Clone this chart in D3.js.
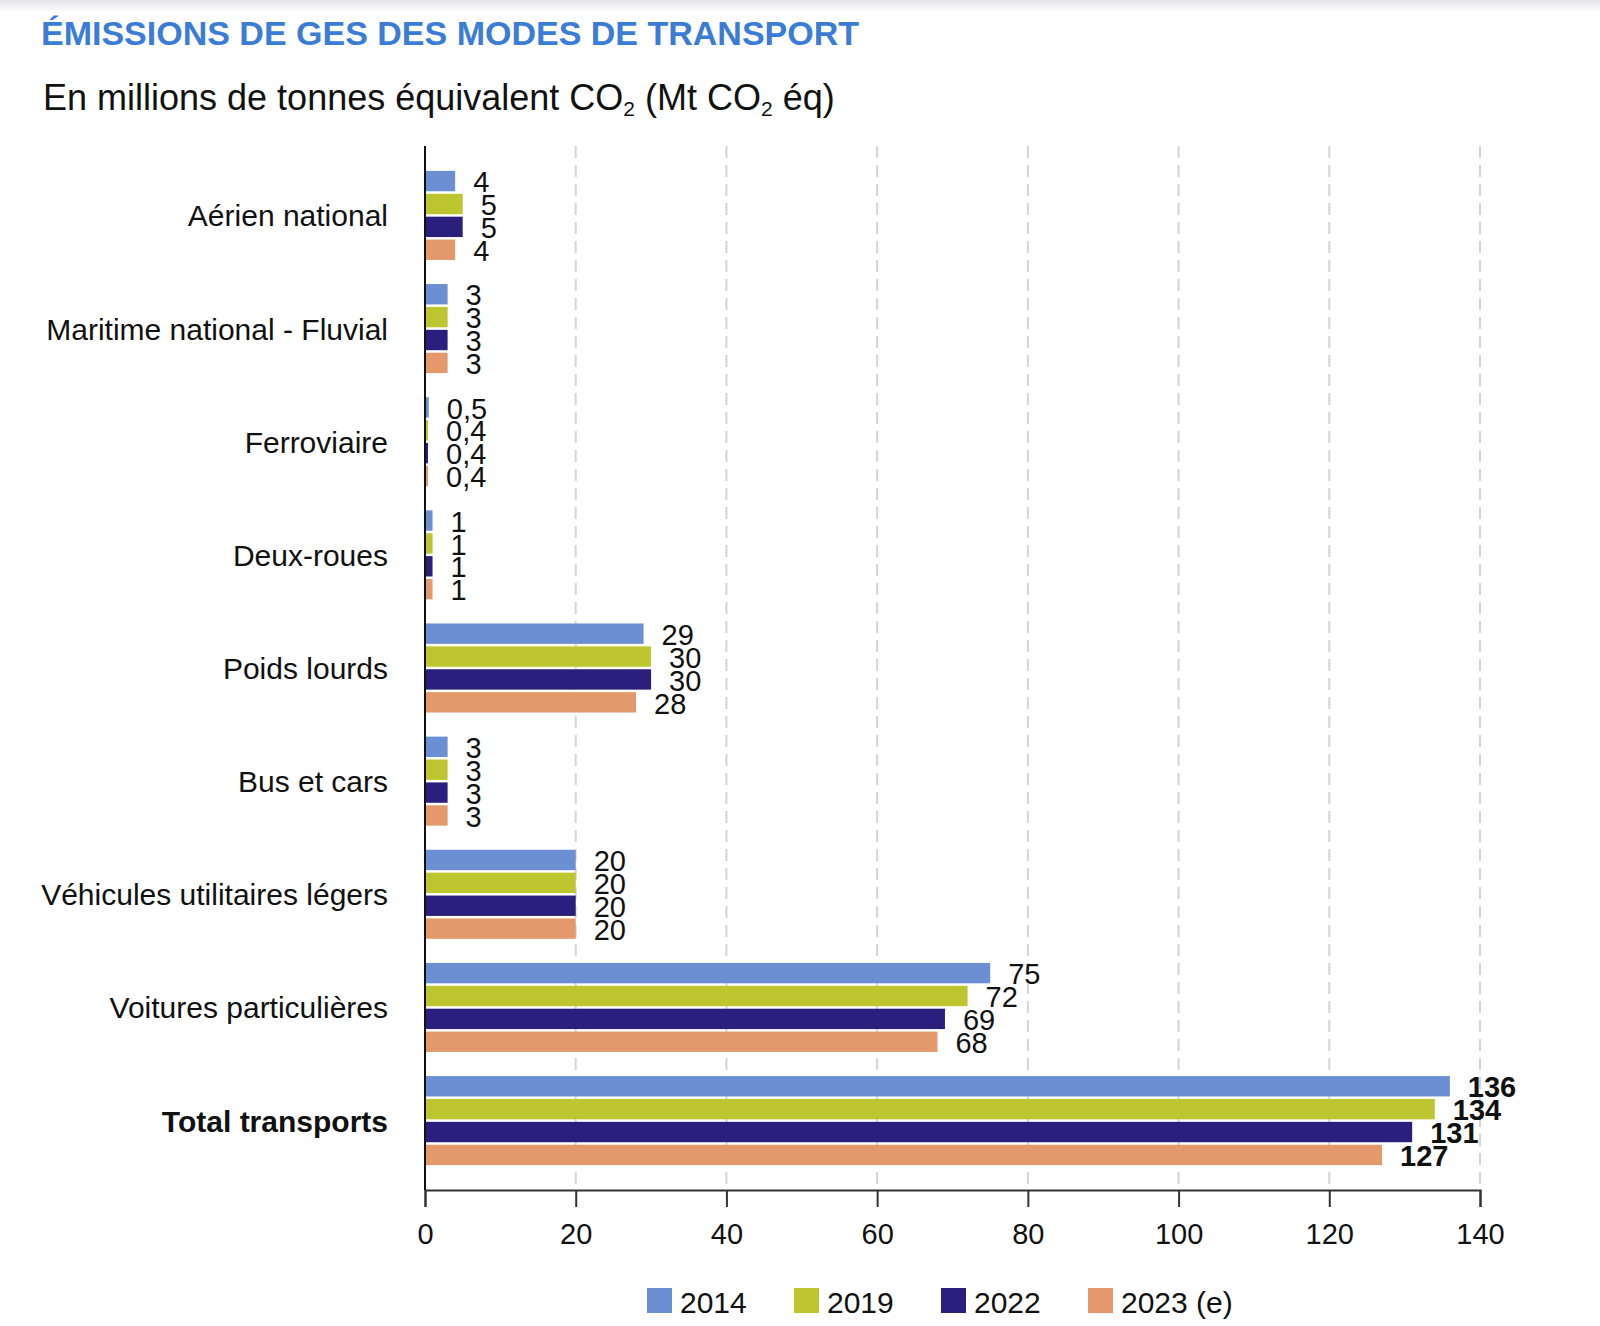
<!doctype html>
<meta charset='utf-8'>
<title>Émissions de GES des modes de transport</title>

<style type="text/css">
	body {
		margin:0;
		background:white;
	}
	svg {
		display:block;
		font-family:"Liberation Sans", Arial, Helvetica, sans-serif;
	}
	.grid line {
		stroke:#d4d4d4;
		stroke-width:2px;
		stroke-dasharray:12,7;
	}
</style>

<div id='container'></div>

<script src="https://cdnjs.cloudflare.com/ajax/libs/d3/7.8.5/d3.min.js" charset="utf-8"></script>
<script>

	// données (Mt CO2 éq)
	var categories = [
		'Aérien national',
		'Maritime national - Fluvial',
		'Ferroviaire',
		'Deux-roues',
		'Poids lourds',
		'Bus et cars',
		'Véhicules utilitaires légers',
		'Voitures particulières',
		'Total transports'
	]
	var years = ['2014', '2019', '2022', '2023 (e)']
	var v2014 = [4, 3, 0.5, 1, 29, 3, 20, 75, 136]
	var v2019 = [5, 3, 0.4, 1, 30, 3, 20, 72, 134]
	var v2022 = [5, 3, 0.4, 1, 30, 3, 20, 69, 131]
	var v2023 = [4, 3, 0.4, 1, 28, 3, 20, 68, 127]
	var xTicks = [0, 20, 40, 60, 80, 100, 120, 140]
	var colors = ['#6c8ed2', '#bdc62f', '#2c1e7d', '#e3996c']

	var series = [v2014, v2019, v2022, v2023]

	function multiSet(setter, props) {
		return function (selection) {
			Object.keys(props).forEach(function(k){
				selection[setter](k, props[k])
			})
			return selection
		}
	}
	var styles = multiSet.bind(null, 'style')
	var attrs = multiSet.bind(null, 'attr')

	function frNum(v) {
		return String(v).replace('.', ',')
	}

	// -------------------------------------------------------

	var W = 1600, H = 1326
	var plot = {left: 425, right: 1480, top: 146, bottom: 1190}

	var svg = d3.select('#container').append('svg').call(attrs({
		width: W,
		height: H,
		viewBox: '0 0 ' + W + ' ' + H
	}))

	// léger ombrage en haut de la capture
	var defs = svg.append('defs')
	var grad = defs.append('linearGradient').call(attrs({id: 'topShade', x1: 0, y1: 0, x2: 0, y2: 1}))
	grad.append('stop').call(attrs({offset: '0%', 'stop-color': '#e2e2e8'}))
	grad.append('stop').call(attrs({offset: '100%', 'stop-color': '#ffffff'}))
	svg.append('rect').call(attrs({x: 0, y: 0, width: W, height: 12, fill: 'url(#topShade)'}))

	// titres
	svg.append('text').text('ÉMISSIONS DE GES DES MODES DE TRANSPORT').call(attrs({
		x: 41, y: 45
	})).call(styles({fill: '#3b7dd6', 'font-size': '34px', 'font-weight': 'bold'}))

	var sub = svg.append('text').call(attrs({x: 43, y: 110}))
		.call(styles({fill: '#111', 'font-size': '36px'}))
	sub.append('tspan').text('En millions de tonnes équivalent CO')
	sub.append('tspan').text('2').attr('dy', 6).style('font-size', '21px')
	sub.append('tspan').text(' (Mt CO').attr('dy', -6)
	sub.append('tspan').text('2').attr('dy', 6).style('font-size', '21px')
	sub.append('tspan').text(' éq)').attr('dy', -6)

	// échelles
	var x = d3.scaleLinear().domain([0, 140]).range([plot.left, plot.right])
	var y = d3.scaleBand().domain(categories).range([plot.top, plot.bottom])
		.paddingInner(0.213).paddingOuter(0.22)
	var yInner = d3.scaleBand().domain(d3.range(series.length)).range([0, y.bandwidth()])
		.paddingInner(0.11)

	// grille
	svg.append('g').attr('class', 'grid').selectAll('line')
		.data(xTicks.filter(function(d){ return d > 0 }))
		.join('line').call(attrs({
			x1: function(d){ return x(d) },
			x2: function(d){ return x(d) },
			y1: plot.top,
			y2: plot.bottom
		}))

	// axe des x
	var xAxis = d3.axisBottom(x).tickValues(xTicks).tickSize(17).tickPadding(10)
		.tickFormat(function(d){ return d })
	var gx = svg.append('g').attr('transform', 'translate(0,' + plot.bottom + ')').call(xAxis)
	gx.select('.domain').call(styles({stroke: '#333', 'stroke-width': '2px'}))
	gx.selectAll('.tick line').call(styles({stroke: '#333', 'stroke-width': '2px'}))
	gx.selectAll('.tick text').call(styles({
		'font-size': '29px', fill: '#111', 'font-family': '"Liberation Sans", Arial, sans-serif'
	})).attr('dy', '0.93em')

	// barres
	var groups = svg.append('g').selectAll('g')
		.data(categories)
		.join('g')
		.attr('transform', function(d){ return 'translate(0,' + y(d) + ')' })

	groups.each(function(cat, ci) {
		var g = d3.select(this)
		var isTotal = ci === categories.length - 1
		series.forEach(function(vals, si) {
			var v = vals[ci]
			g.append('rect').call(attrs({
				x: x(0),
				y: yInner(si),
				width: x(v) - x(0),
				height: yInner.bandwidth(),
				fill: colors[si]
			}))
			g.append('text').text(frNum(v)).call(attrs({
				x: x(v) + 18,
				y: yInner(si) + yInner.bandwidth() + 1
			})).call(styles({
				'font-size': '29px',
				'font-weight': isTotal ? 'bold' : 'normal',
				fill: '#111'
			}))
		})
	})

	// libellés des catégories
	svg.append('g').selectAll('text')
		.data(categories)
		.join('text')
		.text(function(d){ return d })
		.call(attrs({
			x: 388,
			y: function(d){ return y(d) + y.bandwidth() / 2 + 11 },
			'text-anchor': 'end'
		}))
		.call(styles({
			'font-size': '30px',
			fill: '#111',
			'font-weight': function(d){ return d === 'Total transports' ? 'bold' : 'normal' }
		}))

	// axe vertical
	svg.append('line').call(attrs({
		x1: plot.left, x2: plot.left, y1: plot.top, y2: plot.bottom
	})).call(styles({stroke: '#111', 'stroke-width': '2px'}))

	// légende
	var legend = svg.append('g').attr('transform', 'translate(647,1288)')
	var item = legend.selectAll('g')
		.data(years)
		.join('g')
		.attr('transform', function(d, i){ return 'translate(' + (i * 147) + ',0)' })
	item.append('rect').call(attrs({
		width: 25, height: 25,
		fill: function(d, i){ return colors[i] }
	}))
	item.append('text').text(function(d){ return d }).call(attrs({x: 33, y: 25}))
		.call(styles({'font-size': '30px', fill: '#111'}))

</script>
